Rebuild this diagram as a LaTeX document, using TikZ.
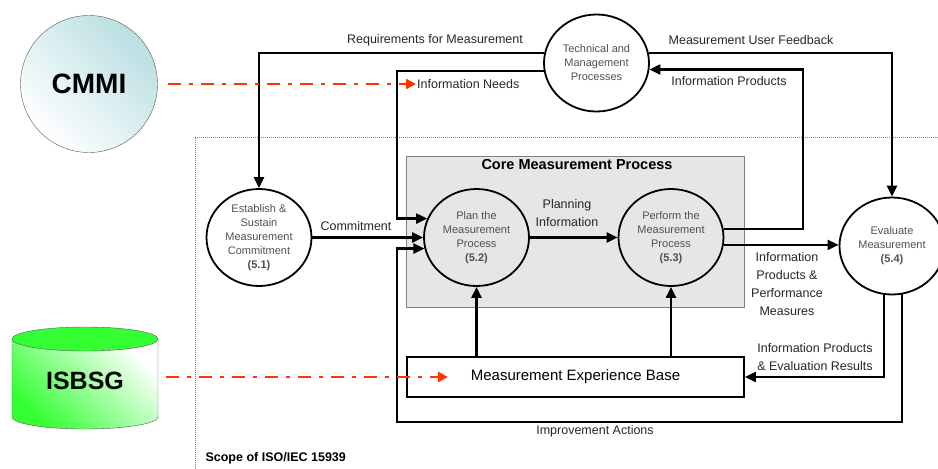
\documentclass[tikz,border=0pt]{standalone}
\usepackage{fontspec}
\setmainfont{Liberation Sans}
\usepackage{tikz}
\usetikzlibrary{arrows.meta,shapes.geometric,positioning,calc}
\definecolor{cmmicyan}{HTML}{BADFE2}
\definecolor{isbsggreen}{HTML}{33FF33}
\definecolor{refred}{HTML}{FF3300}
\definecolor{coregray}{HTML}{E6E6E6}
\definecolor{proctext}{HTML}{505050}

\begin{document}
\begin{tikzpicture}[x=1pt,y=-1pt,
proc/.style={ellipse,draw,line width=1.8pt,minimum width=105pt,minimum height=97pt,inner sep=0pt,align=center,text=proctext,font=\fontsize{11}{14}\selectfont},
flow/.style={line width=2.2pt,-{Triangle[length=11pt,width=10pt]}},
lbl/.style={align=center,text=black!85,font=\fontsize{12.5}{18}\selectfont},
refarrow/.style={refred,line width=2.5pt,dash pattern=on 13pt off 8pt on 4pt off 8pt,-{Triangle[length=10pt,width=10pt]}}]
\useasboundingbox (0,0) rectangle (938,469);

% scope of the standard
\draw[gray,densely dotted,line width=1pt] (195,469) -- (195,137) -- (938,137);
\node[anchor=west,font=\bfseries\fontsize{12.5}{15}\selectfont] (scope) at (202,458) {Scope of ISO/IEC 15939};

\node[draw=gray,fill=coregray,minimum width=338pt,minimum height=151pt] (core) at (575,231.5) {};
\node[font=\bfseries\fontsize{14.5}{16}\selectfont] (coretitle) at (577,165) {Core Measurement Process};

\node[proc] (tmp) at (596.5,63) {Technical and\\Management\\Processes};
\node[proc] (est) at (259,237.5) {Establish \&\\Sustain\\Measurement\\Commitment\\\textbf{(5.1)}};
\node[proc] (plan) at (476.5,237.5) {Plan the\\Measurement\\Process\\\textbf{(5.2)}};
\node[proc] (perf) at (671,237.5) {Perform the\\Measurement\\Process\\\textbf{(5.3)}};
\node[proc] (eval) at (892,246) {Evaluate\\Measurement\\\textbf{(5.4)}};
\node[draw,line width=1.8pt,minimum width=337pt,minimum height=40pt,font=\fontsize{15}{18}\selectfont] (meb) at (575.5,377) {Measurement Experience Base};

% external sources
\node[circle,draw=gray!70!black,top color=cmmicyan,bottom color=white,shading angle=-45,minimum size=137pt,font=\bfseries\fontsize{28}{30}\selectfont] (cmmi) at (89,84) {CMMI};
\shade[top color=white,bottom color=isbsggreen,shading angle=-45,draw=gray!70!black] (12,339) -- (12,417) arc[start angle=180,end angle=0,x radius=73,y radius=12] -- (158,339) -- cycle;
\filldraw[fill=isbsggreen,draw=gray!70!black] (85,339) ellipse [x radius=73,y radius=12];
\node[font=\bfseries\fontsize{25}{28}\selectfont] (isbsg) at (85,381) {ISBSG};

\node[lbl] (reqlbl) at (435,40) {Requirements for Measurement};
\node[lbl,anchor=west,inner sep=1pt] (needs) at (416,84) {Information Needs};
\node[lbl] (feedlbl) at (751,40) {Measurement User Feedback};
\node[lbl] (prodlbl) at (729,81) {Information Products};
\node[lbl] (commlbl) at (356,226) {Commitment};
\node[lbl] (planlbl) at (567,213) {Planning\\Information};
\node[lbl] (perflbl) at (787,284) {Information\\Products \&\\Performance\\Measures};
\node[lbl] (evallbl) at (815,357) {Information Products\\\& Evaluation Results};
\node[lbl] (impllbl) at (595,431) {Improvement Actions};

\coordinate (needsx) at (397,0);
\coordinate (prodx) at (803,0);
\coordinate (loopcorner) at (397,422);
\coordinate (cmmiout) at (168,84);
\coordinate (isbsgout) at (166,377);
\coordinate (isbsgin) at (448,377);

\draw[flow] (tmp.169) -| (est.north);
\draw[flow] (tmp.189) -| (needsx |- plan.159) -- (plan.159);
\draw[flow] (tmp.11) -| (eval.north);
\draw[flow] (perf.9) -| (prodx |- tmp.353) -- (tmp.353);
\draw[flow] (est.east) -- (plan.west);
\draw[flow] (plan.east) -- (perf.west);
\draw[flow] (perf.352) -- (perf.352 -| eval.west);
\draw[flow] (eval.261) |- (meb.east);
\draw[flow] (eval.282) |- (loopcorner) |- (plan.192);
\draw[flow] (plan.south |- meb.north) -- (plan.south);
\draw[flow] (perf.south |- meb.north) -- (perf.south);

\draw[refarrow] (cmmiout) -- (needs.west);
\draw[refarrow] (isbsgout) -- (isbsgin);
\end{tikzpicture}
\end{document}
